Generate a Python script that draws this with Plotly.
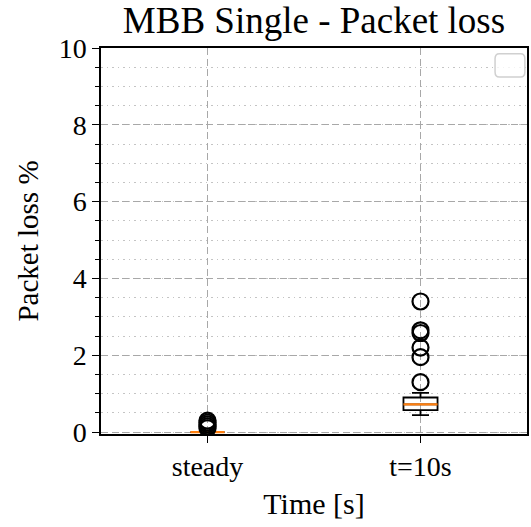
import plotly.graph_objects as go

categories = ["steady", "t=10s"]
positions = [1, 2]
q1 = [0.0, 0.57]
median = [0.0, 0.72]
q3 = [0.0, 0.90]
lower_whisker = [0.0, 0.44]
upper_whisker = [0.0, 1.02]
outliers_steady = [0.30, 0.25, 0.20, 0.15, 0.10]
outliers_t10 = [3.40, 2.65, 2.58, 2.20, 1.95, 1.30]
outliers = [outliers_steady, outliers_t10]

FONT = "Liberation Serif"
BOX_W = 0.16

fig = go.Figure()
for i, pos in enumerate(positions):
    fig.add_trace(go.Box(
        x=[pos], q1=[q1[i]], median=[median[i]], q3=[q3[i]],
        lowerfence=[lower_whisker[i]], upperfence=[upper_whisker[i]],
        width=BOX_W, whiskerwidth=0.5, boxpoints=False,
        line=dict(color="black", width=1.8), fillcolor="rgba(0,0,0,0)",
        showlegend=False, hoverinfo="skip",
    ))
for i, pos in enumerate(positions):
    fig.add_trace(go.Scatter(
        x=[pos - BOX_W / 2, pos + BOX_W / 2], y=[median[i], median[i]],
        mode="lines", line=dict(color="#ff7f0e", width=2.2),
        showlegend=False, hoverinfo="skip",
    ))
    fig.add_trace(go.Scatter(
        x=[pos] * len(outliers[i]), y=outliers[i], mode="markers",
        marker=dict(symbol="circle-open", size=16, color="black",
                    line=dict(width=2.2, color="black")),
        showlegend=False, hoverinfo="skip",
    ))

# empty legend frame (as in the reference)
fig.add_shape(type="path", xref="paper", yref="paper",
              path="M 0.935 0.985 L 0.985 0.985 Q 0.995 0.985 0.995 0.972 "
                   "L 0.995 0.938 Q 0.995 0.925 0.985 0.925 L 0.935 0.925 "
                   "Q 0.925 0.925 0.925 0.938 L 0.925 0.972 Q 0.925 0.985 0.935 0.985 Z",
              line=dict(color="#d0d0d0", width=1.5), fillcolor="rgba(255,255,255,0.8)")

fig.update_layout(
    width=531, height=527,
    margin=dict(l=101, r=2, t=48, b=93),
    paper_bgcolor="white", plot_bgcolor="white",
    font=dict(family=FONT, size=29, color="black"),
    title=dict(text="MBB Single - Packet loss", x=0.5, xref="paper",
               xanchor="center", y=0.962, yanchor="middle",
               font=dict(family=FONT, size=37)),
)
fig.update_xaxes(
    range=[0.5, 2.5], tickvals=positions, ticktext=categories,
    showline=True, linecolor="black", linewidth=1.5, mirror=True,
    ticks="outside", ticklen=7, tickwidth=1.2, tickcolor="black",
    tickfont=dict(family=FONT, size=28),
    showgrid=True, gridcolor="#a8a8a8", griddash="7px,3.5px", gridwidth=1.4,
    zeroline=False,
    title=dict(text="Time [s]", font=dict(family=FONT, size=30), standoff=12),
)
fig.update_yaxes(
    range=[-0.05, 10], tickvals=[0, 2, 4, 6, 8, 10],
    showline=True, linecolor="black", linewidth=1.5, mirror=True,
    ticks="outside", ticklen=7, tickwidth=1.2, tickcolor="black",
    tickfont=dict(family=FONT, size=28),
    showgrid=True, gridcolor="#a8a8a8", griddash="7px,3.5px", gridwidth=1.4,
    zeroline=False,
    minor=dict(dtick=0.5, tick0=0, ticks="outside", ticklen=4, tickwidth=1,
               tickcolor="black", showgrid=True, gridcolor="#c4c4c4",
               griddash="1.5px,4px", gridwidth=1.3),
    title=dict(text="Packet loss %", font=dict(family=FONT, size=29), standoff=12),
)

fig.write_html("out.html")
